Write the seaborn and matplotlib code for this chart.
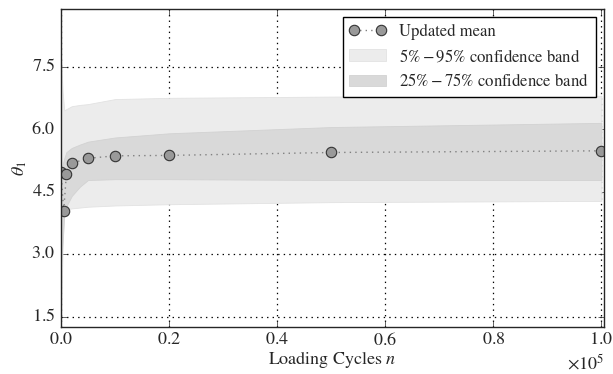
import matplotlib; matplotlib.use('Agg')
import numpy as np
import matplotlib.pyplot as plt
import seaborn as sns

# loading cycles and posterior statistics of theta_1
cycles = [0, 500, 1000, 2000, 5000, 10000, 20000, 50000, 100000]
mean_theta = [4.97, 4.04, 4.93, 5.18, 5.30, 5.36, 5.37, 5.44, 5.48]

band_n = [0, 300, 600, 1000, 2000, 3500, 5000, 10000, 20000, 50000, 100000]
q05 = [1.35, 3.2, 4.05, 4.07, 4.10, 4.12, 4.14, 4.17, 4.20, 4.25, 4.28]
q95 = [7.75, 6.9, 6.45, 6.48, 6.55, 6.58, 6.60, 6.72, 6.75, 6.78, 6.80]
q25 = [2.75, 3.3, 3.95, 4.15, 4.40, 4.62, 4.78, 4.80, 4.80, 4.78, 4.78]
q75 = [4.95, 5.15, 5.30, 5.45, 5.55, 5.63, 5.70, 5.80, 5.90, 6.05, 6.15]

plt.style.use('classic')
sns.set_style('ticks', {'xtick.direction': 'in', 'ytick.direction': 'in'})
plt.rcParams['font.family'] = ['STIXGeneral', 'DejaVu Serif']
plt.rcParams['mathtext.fontset'] = 'stix'
plt.rcParams['axes.formatter.use_mathtext'] = True
plt.rcParams['font.size'] = 12

fig = plt.figure(figsize=(6.13, 3.74), dpi=100)
ax = fig.add_axes([0.0995, 0.126, 0.886, 0.85])

ax.fill_between(band_n, q05, q95, color='#ececec', linewidth=0.6, edgecolor='#e2e2e2',
                label=r'$5\%-95\%$ confidence band')
ax.fill_between(band_n, q25, q75, color='#d9d9d9', linewidth=0.6, edgecolor='#d2d2d2',
                label=r'$25\%-75\%$ confidence band')
sns.lineplot(x=cycles, y=mean_theta, ax=ax, color='gray', linestyle=':', linewidth=1,
             marker='o', markersize=7.5, markerfacecolor='#999999',
             markeredgecolor='#333333', markeredgewidth=0.8, label='Updated mean')

ax.set_xlim(0, 100500)
ax.set_ylim(1.26, 8.88)
ax.set_yticks([1.5, 3.0, 4.5, 6.0, 7.5])
ax.set_xticks([0, 20000, 40000, 60000, 80000, 100000])
ax.ticklabel_format(axis='x', style='sci', scilimits=(0, 0))
ax.grid(True, color='black', linestyle=':', linewidth=0.9)
ax.tick_params(direction='in', top=True, right=True, labelsize=13, length=4)
for s in ax.spines.values():
    s.set_visible(True)
    s.set_linewidth(1)
ax.xaxis.get_offset_text().set_fontsize(13)

ax.set_xlabel(r'Loading Cycles $n$', fontsize=13, labelpad=0)
ax.set_ylabel(r'$\theta_1$', fontsize=13, labelpad=2)

h, l = ax.get_legend_handles_labels()
order = [l.index('Updated mean'), l.index(r'$5\%-95\%$ confidence band'),
         l.index(r'$25\%-75\%$ confidence band')]
leg = ax.legend([h[i] for i in order], [l[i] for i in order], loc='upper right',
                fontsize=12, numpoints=2, fancybox=False, framealpha=1,
                edgecolor='black', borderaxespad=0.5, handlelength=2.2)
leg.get_frame().set_linewidth(1)

fig.savefig('out.png', dpi=100)
